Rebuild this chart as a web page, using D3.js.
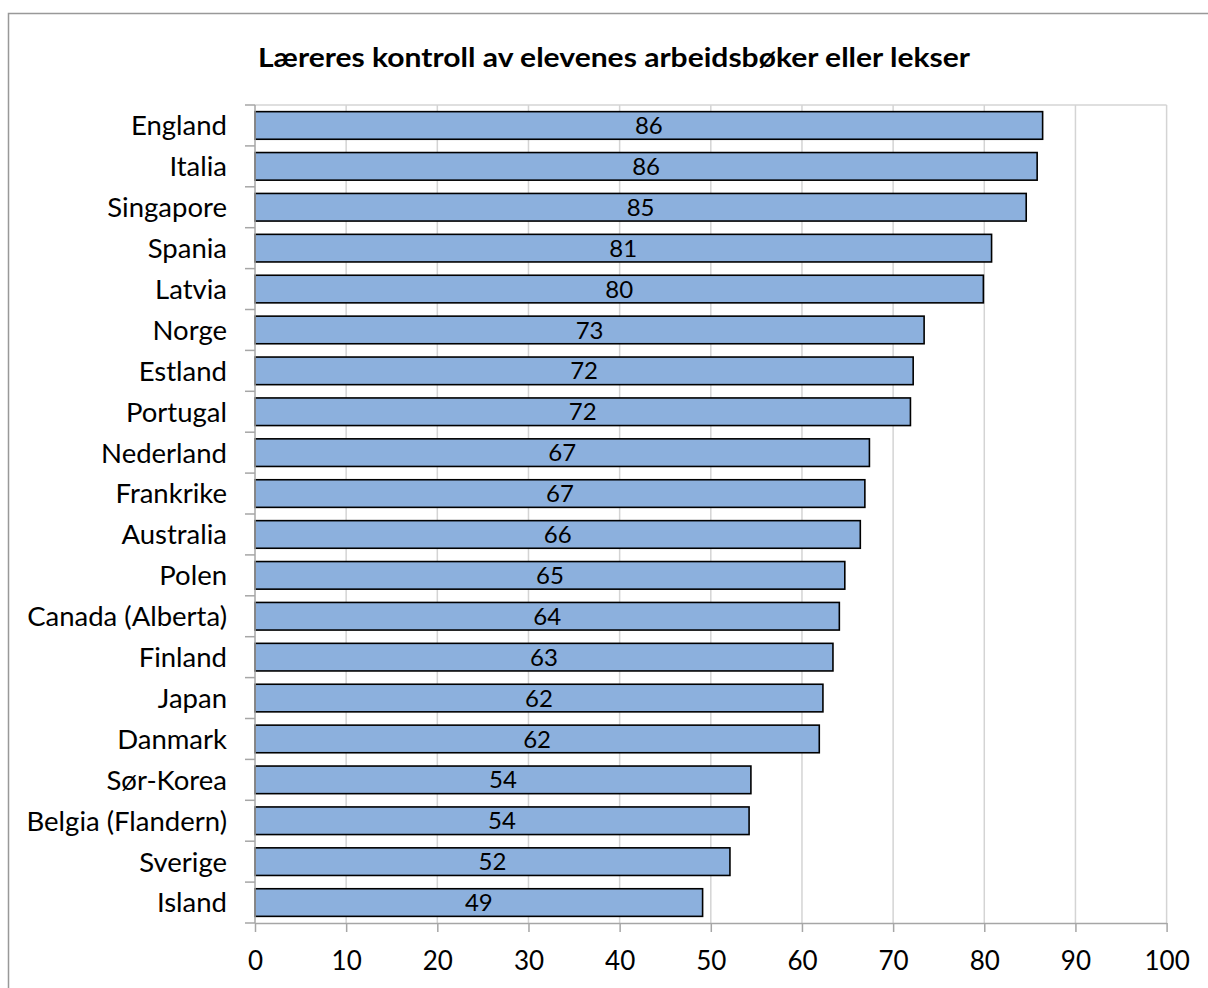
<!DOCTYPE html>
<html>
<head>
<meta charset="utf-8">
<script src="https://cdn.jsdelivr.net/npm/d3@7"></script>
<style>
  body { margin: 0; background: #fff; }
  svg { display: block; font-family: Lato, "Open Sans", sans-serif; }
</style>
</head>
<body>
<svg id="chart" width="1208" height="988"></svg>
<script>
// Datos del gráfico
const title = 'Læreres kontroll av elevenes arbeidsbøker eller lekser';
const countries = ['England', 'Italia', 'Singapore', 'Spania', 'Latvia', 'Norge', 'Estland', 'Portugal',
  'Nederland', 'Frankrike', 'Australia', 'Polen', 'Canada (Alberta)', 'Finland', 'Japan', 'Danmark',
  'Sør-Korea', 'Belgia (Flandern)', 'Sverige', 'Island'];
const values = [86.4, 85.8, 84.6, 80.8, 79.9, 73.4, 72.2, 71.9, 67.4, 66.9, 66.4, 64.7, 64.1, 63.4,
  62.3, 61.9, 54.4, 54.2, 52.1, 49.1];
const xTicks = [0, 10, 20, 30, 40, 50, 60, 70, 80, 90, 100];

const data = countries.map((c, i) => ({ country: c, value: values[i] }));

// Área del gráfico
const plot = { left: 255, right: 1166.6, top: 105, bottom: 923 };

const svg = d3.select('#chart');

// Marco exterior
svg.append('rect')
  .attr('x', 8.5).attr('y', 13.5)
  .attr('width', 1220).attr('height', 1000)
  .attr('fill', 'none')
  .attr('stroke', '#999')
  .attr('stroke-width', 1.5);

// Título
svg.append('text')
  .attr('x', 614).attr('y', 67)
  .attr('text-anchor', 'middle')
  .attr('font-size', 27)
  .attr('font-weight', 'bold')
  .attr('textLength', 712)
  .attr('lengthAdjust', 'spacingAndGlyphs')
  .text(title);

// Escalas
const x = d3.scaleLinear().domain([0, 100]).range([plot.left, plot.right]);
const y = d3.scaleBand()
  .domain(countries)
  .range([plot.top, plot.bottom])
  .paddingInner(0.325)
  .paddingOuter(0.1625);
const yEdge = d3.scaleLinear().domain([0, countries.length]).range([plot.top, plot.bottom]);

// Líneas de cuadrícula verticales
svg.append('g')
  .selectAll('line')
  .data(xTicks.filter(d => d > 0))
  .enter()
  .append('line')
  .attr('x1', d => x(d)).attr('x2', d => x(d))
  .attr('y1', plot.top).attr('y2', plot.bottom)
  .attr('stroke', '#d4d4d4')
  .attr('stroke-width', 1.5);

// Borde superior del área de trazado
svg.append('line')
  .attr('x1', plot.left).attr('x2', plot.right)
  .attr('y1', plot.top).attr('y2', plot.top)
  .attr('stroke', '#d4d4d4')
  .attr('stroke-width', 1.5);

// Barras
svg.append('g')
  .selectAll('rect')
  .data(data)
  .enter()
  .append('rect')
  .attr('x', x(0))
  .attr('y', d => y(d.country))
  .attr('width', d => x(d.value) - x(0))
  .attr('height', y.bandwidth())
  .attr('fill', '#8cb0dd')
  .attr('stroke', '#000')
  .attr('stroke-width', 1.6);

// Etiquetas de valor
svg.append('g')
  .selectAll('text')
  .data(data)
  .enter()
  .append('text')
  .attr('x', d => (x(0) + x(d.value)) / 2)
  .attr('y', d => y(d.country) + y.bandwidth() / 2)
  .attr('dy', '0.36em')
  .attr('text-anchor', 'middle')
  .attr('font-size', 24)
  .text(d => d3.format('.0f')(d.value));

// Eje Y (línea y marcas en los bordes de categoría)
const yAxis = svg.append('g');
yAxis.append('line')
  .attr('x1', plot.left).attr('x2', plot.left)
  .attr('y1', plot.top).attr('y2', plot.bottom)
  .attr('stroke', '#a6a6a6')
  .attr('stroke-width', 1.5);
yAxis.selectAll('line.tick')
  .data(d3.range(countries.length + 1))
  .enter()
  .append('line')
  .attr('class', 'tick')
  .attr('x1', plot.left - 10).attr('x2', plot.left)
  .attr('y1', d => yEdge(d)).attr('y2', d => yEdge(d))
  .attr('stroke', '#a6a6a6')
  .attr('stroke-width', 1.5);
yAxis.selectAll('text')
  .data(countries)
  .enter()
  .append('text')
  .attr('x', 227)
  .attr('y', d => y(d) + y.bandwidth() / 2)
  .attr('dy', '0.36em')
  .attr('text-anchor', 'end')
  .attr('font-size', 27.5)
  .text(d => d);

// Eje X
const xAxis = svg.append('g')
  .attr('transform', `translate(0, ${plot.bottom})`)
  .call(d3.axisBottom(x).tickValues(xTicks).tickSize(9).tickPadding(20).tickSizeOuter(0));
xAxis.select('.domain').attr('stroke', '#a6a6a6').attr('stroke-width', 1.5);
xAxis.selectAll('.tick line').attr('stroke', '#a6a6a6').attr('stroke-width', 1.5);
xAxis.selectAll('.tick text')
  .attr('fill', '#000')
  .attr('font-size', 26)
  .attr('font-family', 'Lato, "Open Sans", sans-serif');
</script>
</body>
</html>
